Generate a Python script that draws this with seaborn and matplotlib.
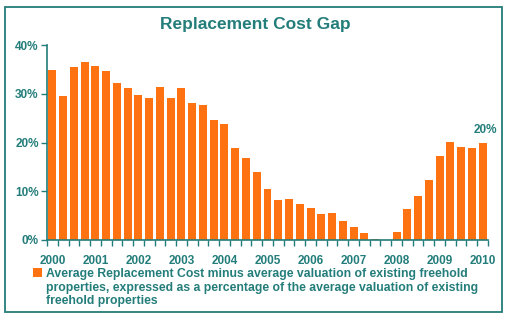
import matplotlib
matplotlib.use("Agg")
import matplotlib.pyplot as plt
import matplotlib.patches as mpatches
import seaborn as sns
import pandas as pd
import numpy as np

years = list(range(2000, 2011))
quarters = [f"{y}Q{q}" for y in range(2000, 2010) for q in range(1, 5)] + ["2010Q1"]
values = [34.8, 29.5, 35.4, 36.6, 35.7, 34.6, 32.3, 31.1, 29.7, 29.2,
          31.3, 29.2, 31.1, 28.2, 27.7, 24.7, 23.8, 18.9, 16.8, 13.9,
          10.4, 8.2, 8.4, 7.3, 6.5, 5.3, 5.5, 4.0, 2.6, 1.4,
          0.3, 0.0, 1.6, 6.3, 9.0, 12.3, 17.3, 20.2, 19.0, 18.8, 20.0]
yticks = [0, 10, 20, 30, 40]
series_label = ("Average Replacement Cost minus average valuation of existing freehold\n"
                "properties, expressed as a percentage of the average valuation of existing\n"
                "freehold properties")
title = "Replacement Cost Gap"
end_label = "20%"

ORANGE = "#FF7212"
TEAL = "#237D7A"

sns.set_theme(style="white")
plt.rcParams['font.family'] = ['Liberation Sans', 'DejaVu Sans']

df = pd.DataFrame({"quarter": quarters, "value": values})

fig = plt.figure(figsize=(5.13, 3.21), dpi=100)
ax = fig.add_axes([47/513, 81/321, 441/513, 195/321])

sns.barplot(data=df, x="quarter", y="value", color=ORANGE, saturation=1,
            width=0.74, ax=ax, label=series_label, linewidth=0)

ax.set_xlim(-0.5, len(quarters) - 0.5)
ax.set_ylim(0, 40)
ax.set_xlabel("")
ax.set_ylabel("")

ax.set_yticks(yticks)
ax.set_yticklabels([f"{t}%" for t in yticks], color=TEAL, fontweight="bold", fontsize=8.5)
major = [quarters.index(f"{y}Q1") for y in years]
ax.set_xticks(major)
ax.set_xticklabels([str(y) for y in years], color=TEAL, fontweight="bold", fontsize=8.5)
ax.set_xticks(np.arange(-0.5, len(quarters), 1.0), minor=True)
ax.tick_params(axis="x", which="major", length=0, pad=11)
ax.tick_params(axis="x", which="minor", length=4, width=1, color=TEAL, direction="out", bottom=True)
ax.tick_params(axis="y", length=4, width=1, color=TEAL, direction="out", left=True, pad=2)

for s in ["top", "right"]:
    ax.spines[s].set_visible(False)
for s in ["left", "bottom"]:
    ax.spines[s].set_color(TEAL)
    ax.spines[s].set_linewidth(1.2)

ax.annotate(end_label, xy=(len(quarters) - 1, values[-1]), xytext=(2, 5),
            textcoords="offset points", ha="center", va="bottom",
            color=TEAL, fontweight="bold", fontsize=8.5)

fig.text(255/513, 1 - 25/321, title, ha="center", va="center",
         color=TEAL, fontweight="bold", fontsize=12.5)

leg = ax.legend(loc="upper left", bbox_to_anchor=(33/513, 1 - 268/321),
                bbox_transform=fig.transFigure, frameon=False,
                handlelength=0.75, handleheight=0.75, handletextpad=0.3,
                borderpad=0, borderaxespad=0, fontsize=8.8)
for t in leg.get_texts():
    t.set_color(TEAL)
    t.set_fontweight("bold")
    t.set_linespacing(1.17)
for col in leg._legend_handle_box.get_children():
    for item in col.get_children():
        item.align = "top"

fig.patches.append(mpatches.Rectangle((5/513, 1 - 312/321), 497/513, 305/321,
                                      transform=fig.transFigure, fill=False,
                                      edgecolor=TEAL, linewidth=1.3))

fig.savefig("out.png", dpi=100)
